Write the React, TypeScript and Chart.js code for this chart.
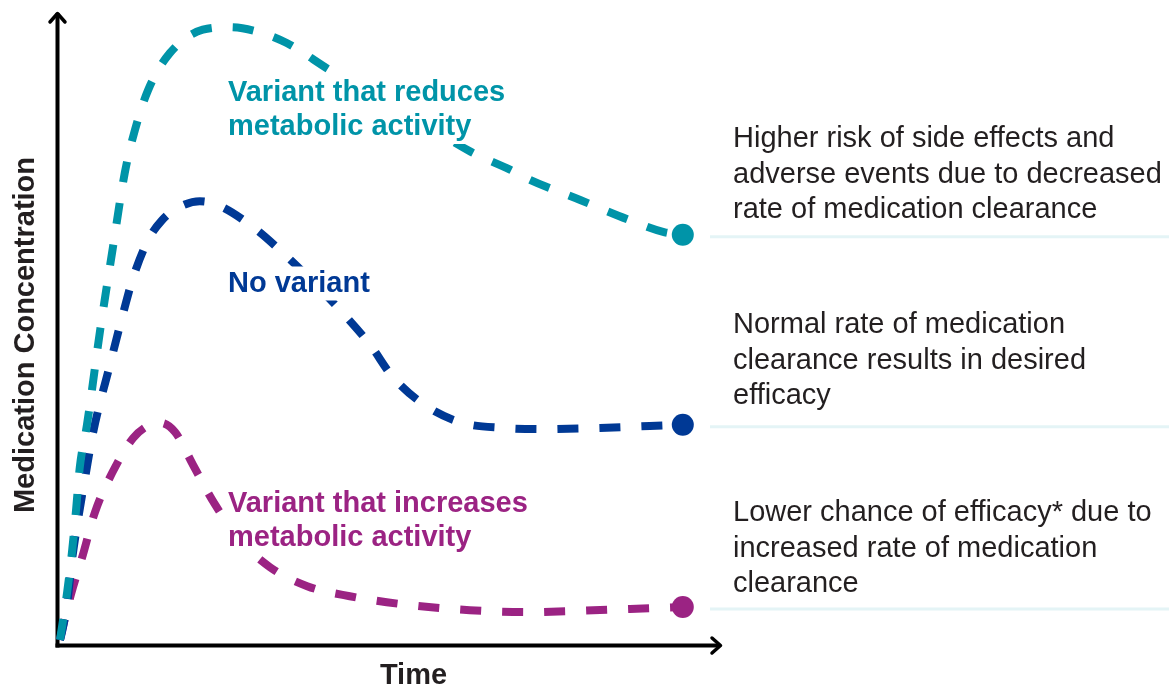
import React, { useEffect, useRef } from "react";
import { Chart, registerables } from "chart.js";

Chart.register(...registerables);

const FONT = "'Liberation Sans', Arial, Helvetica, sans-serif";

const TEAL = "#0094A8";
const BLUE = "#003995";
const PURPLE = "#9B2383";

// Time (x) and concentration (y) values for each curve
const reducedX = [0, 1.2, 2, 2.7, 3.3, 4.5, 6.7, 8.8, 10.8, 12.5, 14.7, 18.3, 23.8, 28.3, 33.3, 37.8, 45, 53.3, 61.7, 68.5, 75, 78.3, 86.7, 95, 100.8, 103.8];
const reducedY = [0.8, 8.4, 14.7, 21.6, 28.1, 34.8, 49.8, 62.7, 74.6, 81.4, 87.7, 93.5, 97.2, 97.6, 96.8, 95.1, 90.8, 86.2, 81.7, 77.9, 75.1, 73.5, 70.3, 67.1, 65.2, 64.8];

const normalX = [0, 0.3, 1.2, 2, 3, 4.2, 5.5, 8.3, 10.8, 12.2, 14.7, 17, 19.5, 23.3, 26.3, 32.2, 37.2, 41.7, 46.7, 51.7, 55.5, 60.8, 67, 73.8, 80.8, 90, 98.3, 103.8];
const normalY = [0.8, 1.9, 6.6, 13.4, 19.8, 26.5, 33.5, 44.2, 53.4, 58.1, 64, 67.1, 69, 70.1, 69.5, 66, 61.9, 57.8, 52.9, 47.4, 42.3, 37.9, 35.1, 34.3, 34.1, 34.3, 34.6, 34.8];

const increasedX = [0, 0.3, 1.8, 3.8, 5.8, 8.7, 12.2, 15, 16.7, 19.2, 22.2, 25.7, 30, 35, 41.2, 48.3, 58.3, 68.3, 78.3, 86.7, 95, 103.8];
const increasedY = [0.8, 2.1, 7.9, 14.2, 20.9, 27.2, 32.7, 34.8, 35.1, 33.6, 28.4, 22.4, 16.6, 12.3, 9.3, 7.7, 6.3, 5.5, 5.2, 5.4, 5.7, 6.0];

const curveLabels = [
  { lines: ["Variant that reduces", "metabolic activity"], color: TEAL, x: 228, y: 100.5, gap: 34.5 },
  { lines: ["No variant"], color: BLUE, x: 228, y: 291.5, gap: 34 },
  { lines: ["Variant that increases", "metabolic activity"], color: PURPLE, x: 228, y: 511.5, gap: 34 },
];

const outcomeNotes = [
  { lines: ["Higher risk of side effects and", "adverse events due to decreased", "rate of medication clearance"], y: 147 },
  { lines: ["Normal rate of medication", "clearance results in desired", "efficacy"], y: 333 },
  { lines: ["Lower chance of efficacy* due to", "increased rate of medication", "clearance"], y: 521 },
];

const xTitle = "Time";
const yTitle = "Medication Concentration";

function toPoints(xs: number[], ys: number[]) {
  return xs.map((x, i) => ({ x, y: ys[i] }));
}

function lastRadius(n: number) {
  return (ctx: any) => (ctx.dataIndex === n - 1 ? 11 : 0);
}

export default function App() {
  const ref = useRef<HTMLCanvasElement | null>(null);

  useEffect(() => {
    if (!ref.current) return;

    const decor = {
      id: "decor",
      beforeDatasetsDraw(chart: any) {
        const { ctx, chartArea } = chart;
        const { left, right, top, bottom } = chartArea;
        ctx.save();
        ctx.strokeStyle = "#000";
        ctx.lineWidth = 4;
        ctx.lineCap = "butt";
        const ax = left - 2.5;
        const ay = bottom + 0.5;
        // y axis
        ctx.beginPath();
        ctx.moveTo(ax, ay + 2);
        ctx.lineTo(ax, top + 1);
        ctx.stroke();
        // x axis
        ctx.beginPath();
        ctx.moveTo(ax - 2, ay);
        ctx.lineTo(right, ay);
        ctx.stroke();
        // arrow heads
        ctx.lineWidth = 3.5;
        ctx.lineJoin = "round";
        ctx.lineCap = "round";
        ctx.beginPath();
        ctx.moveTo(ax - 7.5, top + 10);
        ctx.lineTo(ax, top + 1.5);
        ctx.lineTo(ax + 7.5, top + 10);
        ctx.stroke();
        ctx.beginPath();
        ctx.moveTo(right - 8, ay - 7.5);
        ctx.lineTo(right + 0.5, ay);
        ctx.lineTo(right - 8, ay + 7.5);
        ctx.stroke();

        // separator lines
        const ys = chart.scales.y;
        ctx.lineCap = "butt";
        ctx.strokeStyle = "#E4F4F6";
        ctx.lineWidth = 3;
        [reducedY, normalY, increasedY].forEach((arr) => {
          const py = ys.getPixelForValue(arr[arr.length - 1]);
          ctx.beginPath();
          ctx.moveTo(710, py + 2);
          ctx.lineTo(1169, py + 2);
          ctx.stroke();
        });

        // axis titles
        ctx.fillStyle = "#231F20";
        ctx.font = `bold 29px ${FONT}`;
        ctx.textAlign = "center";
        ctx.textBaseline = "alphabetic";
        ctx.fillText(xTitle, 413.5, 684);
        ctx.save();
        ctx.translate(33.5, 335);
        ctx.rotate(-Math.PI / 2);
        ctx.fillText(yTitle, 0, 0);
        ctx.restore();

        // outcome notes
        ctx.textAlign = "left";
        ctx.font = `29px ${FONT}`;
        ctx.fillStyle = "#231F20";
        outcomeNotes.forEach((n) => {
          n.lines.forEach((t, i) => ctx.fillText(t, 733, n.y + i * 35.5));
        });
        ctx.restore();
      },
      afterDatasetsDraw(chart: any) {
        const { ctx } = chart;
        ctx.save();
        ctx.textAlign = "left";
        ctx.textBaseline = "alphabetic";
        ctx.font = `bold 29px ${FONT}`;
        curveLabels.forEach((l) => {
          const w = Math.max(...l.lines.map((t) => ctx.measureText(t).width));
          const top = l.y - 25;
          const bottom = l.y + (l.lines.length - 1) * l.gap + 9;
          ctx.fillStyle = "#fff";
          ctx.fillRect(l.x - 4, top, w + 8, bottom - top);
          ctx.fillStyle = l.color;
          l.lines.forEach((t, i) => ctx.fillText(t, l.x, l.y + i * l.gap));
        });
        ctx.restore();
      },
    };

    const mk = (label: string, xs: number[], ys: number[], color: string) => ({
      label,
      data: toPoints(xs, ys),
      borderColor: color,
      backgroundColor: color,
      borderWidth: 8,
      borderDash: [21, 21],
      borderCapStyle: "butt" as const,
      cubicInterpolationMode: "monotone" as const,
      pointRadius: lastRadius(xs.length),
      pointHoverRadius: lastRadius(xs.length),
      pointBackgroundColor: color,
      pointBorderWidth: 0,
      fill: false,
      clip: false as any,
    });

    const chart = new Chart(ref.current, {
      type: "line",
      data: {
        datasets: [
          mk("Variant that reduces metabolic activity", reducedX, reducedY, TEAL),
          mk("No variant", normalX, normalY, BLUE),
          mk("Variant that increases metabolic activity", increasedX, increasedY, PURPLE),
        ],
      },
      options: {
        responsive: true,
        maintainAspectRatio: false,
        animation: false,
        events: [],
        layout: { padding: { left: 60, right: 449, top: 12, bottom: 40 } },
        plugins: { legend: { display: false }, tooltip: { enabled: false }, title: { display: false } },
        scales: {
          x: { type: "linear", min: 0, max: 110, display: false },
          y: { type: "linear", min: 0, max: 100, display: false },
        },
      },
      plugins: [decor],
    });

    return () => chart.destroy();
  }, []);

  return (
    <div style={{ position: "fixed", left: 0, top: 0, width: 1169, height: 685, background: "#fff" }}>
      <canvas ref={ref} />
    </div>
  );
}
